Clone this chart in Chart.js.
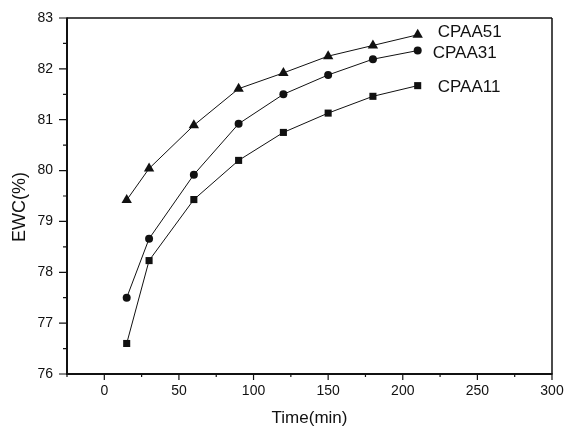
<!DOCTYPE html>
<html><head><meta charset="utf-8">
<script src="https://cdn.jsdelivr.net/npm/chart.js@4"></script>
<style>html,body{margin:0;padding:0;background:#fff;} #wrap{width:566px;height:429px;}</style>
</head><body><div id="wrap"><canvas id="c" width="566" height="429"></canvas></div>
<script>
const times = [15, 30, 60, 90, 120, 150, 180, 210];
const cpaa51 = [79.42, 80.04, 80.89, 81.61, 81.92, 82.25, 82.46, 82.67];
const cpaa31 = [77.50, 78.66, 79.92, 80.92, 81.50, 81.88, 82.19, 82.36];
const cpaa11 = [76.60, 78.23, 79.43, 80.20, 80.75, 81.13, 81.46, 81.67];
const seriesNames = ['CPAA51', 'CPAA31', 'CPAA11'];
const xTicks = [0, 50, 100, 150, 200, 250, 300];
const xMinorTicks = [-25, 25, 75, 125, 175, 225, 275];
const yTicks = [76, 77, 78, 79, 80, 81, 82, 83];
const yMinorTicks = [76.5, 77.5, 78.5, 79.5, 80.5, 81.5, 82.5];
const yTitle = 'EWC(%)';

const INK = '#111';
const FONT = "'Liberation Sans', Arial, sans-serif";

function toPoints(ys) { return times.map((t, i) => ({x: t, y: ys[i]})); }

const styles = [
  {pointStyle: 'triangle', radius: 6, dx: 20, dy: -2},
  {pointStyle: 'circle', radius: 4, dx: 15, dy: 3},
  {pointStyle: 'rect', radius: 5, dx: 20, dy: 2}
];
const seriesData = [cpaa51, cpaa31, cpaa11];

const datasets = seriesData.map((ys, i) => ({
  label: seriesNames[i],
  data: toPoints(ys),
  borderColor: INK,
  borderWidth: 1,
  backgroundColor: INK,
  pointBackgroundColor: INK,
  pointBorderColor: INK,
  pointBorderWidth: 0,
  pointStyle: styles[i].pointStyle,
  pointRadius: styles[i].radius,
  pointHoverRadius: styles[i].radius,
  tension: 0,
  fill: false,
  labelDx: styles[i].dx,
  labelDy: styles[i].dy
}));

function zeroPad(s) { s.paddingTop = 0; s.paddingBottom = 0; s.paddingLeft = 0; s.paddingRight = 0; }

const framePlugin = {
  id: 'frame',
  afterDraw(chart) {
    const ctx = chart.ctx;
    const a = chart.chartArea;
    const xs = chart.scales.x, ys = chart.scales.y;
    ctx.save();
    ctx.strokeStyle = INK;
    ctx.lineWidth = 1.5;
    ctx.beginPath();
    ctx.moveTo(a.left, a.top); ctx.lineTo(a.right, a.top);
    ctx.moveTo(a.right, a.top); ctx.lineTo(a.right, a.bottom);
    ctx.stroke();
    ctx.lineWidth = 2;
    ctx.beginPath();
    ctx.moveTo(a.left, a.top - 0.5); ctx.lineTo(a.left, a.bottom + 1);
    ctx.moveTo(a.left - 1, a.bottom); ctx.lineTo(a.right + 0.5, a.bottom);
    ctx.stroke();
    ctx.lineWidth = 1.2;
    ctx.beginPath();
    xTicks.forEach(v => { const p = xs.getPixelForValue(v); ctx.moveTo(p, a.bottom); ctx.lineTo(p, a.bottom + 6); });
    xMinorTicks.forEach(v => { const p = xs.getPixelForValue(v); ctx.moveTo(p, a.bottom); ctx.lineTo(p, a.bottom + 3); });
    yTicks.forEach(v => { const p = ys.getPixelForValue(v); ctx.moveTo(a.left, p); ctx.lineTo(a.left - 8, p); });
    yMinorTicks.forEach(v => { const p = ys.getPixelForValue(v); ctx.moveTo(a.left, p); ctx.lineTo(a.left - 4, p); });
    ctx.stroke();
    ctx.fillStyle = INK;
    ctx.font = '17px ' + FONT;
    ctx.textAlign = 'left';
    ctx.textBaseline = 'middle';
    chart.data.datasets.forEach((ds, i) => {
      const meta = chart.getDatasetMeta(i);
      const last = meta.data[meta.data.length - 1];
      ctx.fillText(ds.label, last.x + ds.labelDx, last.y + ds.labelDy);
    });
    ctx.save();
    ctx.font = '18px ' + FONT;
    ctx.translate(20, (a.top + a.bottom) / 2 + 11);
    ctx.rotate(-Math.PI / 2);
    ctx.textAlign = 'center';
    ctx.textBaseline = 'middle';
    ctx.fillText(yTitle, 0, 0);
    ctx.restore();
    ctx.restore();
  }
};

new Chart(document.getElementById('c'), {
  type: 'line',
  data: {datasets},
  plugins: [framePlugin],
  options: {
    responsive: false,
    animation: false,
    events: [],
    layout: {padding: {left: 0, right: 14, top: 18, bottom: 0}},
    plugins: {legend: {display: false}, tooltip: {enabled: false}},
    scales: {
      x: {
        type: 'linear',
        min: -25, max: 300,
        afterBuildTicks(s) { s.ticks = xTicks.map(v => ({value: v})); },
        afterFit(s) { s.height = 55; zeroPad(s); },
        grid: {display: true, drawOnChartArea: false, drawTicks: false},
        border: {display: false},
        ticks: {color: INK, font: {family: FONT, size: 14}, padding: 9, maxRotation: 0},
        title: {display: true, text: 'Time(min)', color: INK, font: {family: FONT, size: 17}, padding: {top: 8, bottom: 0}}
      },
      y: {
        type: 'linear',
        min: 76, max: 83,
        afterBuildTicks(s) { s.ticks = yTicks.map(v => ({value: v})); },
        afterFit(s) { s.width = 67; zeroPad(s); },
        grid: {display: true, drawOnChartArea: false, drawTicks: false},
        border: {display: false},
        ticks: {color: INK, font: {family: FONT, size: 14}, padding: 14},
        title: {display: false}
      }
    }
  }
});
</script>
</body></html>
